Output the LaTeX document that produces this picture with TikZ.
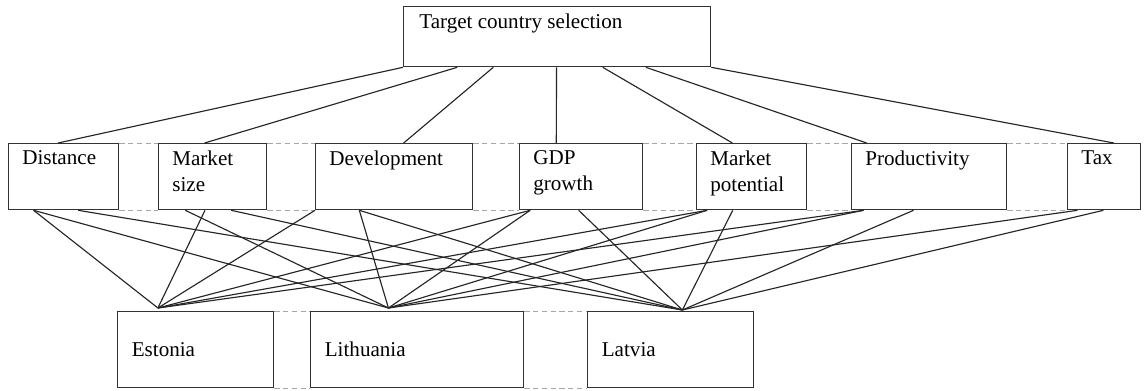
\documentclass[tikz,border=0pt]{standalone}
\usepackage{fontspec}
\setmainfont{Liberation Serif}
\usetikzlibrary{calc}
\begin{document}
\begin{tikzpicture}[x=0.02cm,y=0.02cm,
  box/.style={draw=black!80, line width=0.75pt, anchor=north west, inner sep=0pt, minimum height=1.32cm},
  lbl/.style={anchor=north west, inner sep=0pt, xshift=0.28cm, yshift=-0.15cm, align=left, font=\fontsize{12}{14.8}\selectfont},
  cty/.style={anchor=west, inner sep=0pt, xshift=0.29cm, font=\fontsize{12}{14.8}\selectfont},
  link/.style={line width=0.65pt, black!85},
  gap/.style={densely dashed, black!35, line width=0.5pt}]
  \useasboundingbox (0,0) rectangle (1145,-390);
  % goal
  \node[box, minimum width=6.14cm, minimum height=1.2cm, label={[lbl, xshift=0.04cm]north west:Target country selection}] (top) at (403,-6) {};
  % criteria
  \node[box, minimum width=2.2cm, label={[lbl]north west:Distance}] (dist) at (8,-143) {};
  \node[box, minimum width=2.16cm, label={[lbl]north west:Market\\size}] (msize) at (158,-143) {};
  \node[box, minimum width=3.14cm, label={[lbl]north west:Development}] (devel) at (315,-143) {};
  \node[box, minimum width=2.46cm, label={[lbl]north west:GDP\\growth}] (gdp) at (519,-143) {};
  \node[box, minimum width=2.2cm, label={[lbl]north west:Market\\potential}] (mpot) at (696,-143) {};
  \node[box, minimum width=3.1cm, label={[lbl]north west:Productivity}] (prod) at (851,-143) {};
  \node[box, minimum width=1.46cm, label={[lbl]north west:Tax}] (tax) at (1067,-143) {};
  % alternatives
  \node[box, minimum width=3.12cm, minimum height=1.52cm, label={[cty]west:Estonia}] (est) at (117,-311) {};
  \node[box, minimum width=4.26cm, minimum height=1.52cm, label={[cty]west:Lithuania}] (lit) at (310,-311) {};
  \node[box, minimum width=3.32cm, minimum height=1.52cm, label={[cty]west:Latvia}] (lat) at (587,-311) {};
  \coordinate (pe) at ($(est.north west)!0.26!(est.north east)+(0,3)$);
  \coordinate (pl) at ($(lit.north west)!0.366!(lit.north east)+(0,3)$);
  \coordinate (pv) at ($(lat.north west)!0.57!(lat.north east)+(0,1)$);

  \foreach \a/\b in {dist/msize, msize/devel, devel/gdp, gdp/mpot, mpot/prod, prod/tax, est/lit, lit/lat}
    \draw[gap] (\a.north east) -- (\b.north west) (\a.south east) -- (\b.south west);

  \foreach \n/\a/\b in {dist/0/0.45, msize/0.176/0.426, devel/0.293/0.56, gdp/0.498/0.30, mpot/0.648/0.327, prod/0.788/0.10, tax/1/0.63}
    \draw[link] ($(top.south west)!\a!(top.south east)$) -- ($(\n.north west)!\b!(\n.north east)$);

  \foreach \n/\a/\p in {dist/0.23/pe, dist/0.23/pl, dist/0.63/pv, msize/0.43/pe, msize/0.25/pl, msize/0.67/pv,
      devel/0/pe, devel/0.28/pl, devel/0.28/pv, gdp/0.09/pe, gdp/0.09/pl, gdp/0.48/pv,
      mpot/0.10/pe, mpot/0.10/pl, mpot/0.33/pv, prod/0.08/pe, prod/0.08/pl, prod/0.4/pv,
      tax/0.14/pl, tax/0.49/pv}
    \draw[link] ($(\n.south west)!\a!(\n.south east)$) -- (\p);
\end{tikzpicture}
\end{document}
